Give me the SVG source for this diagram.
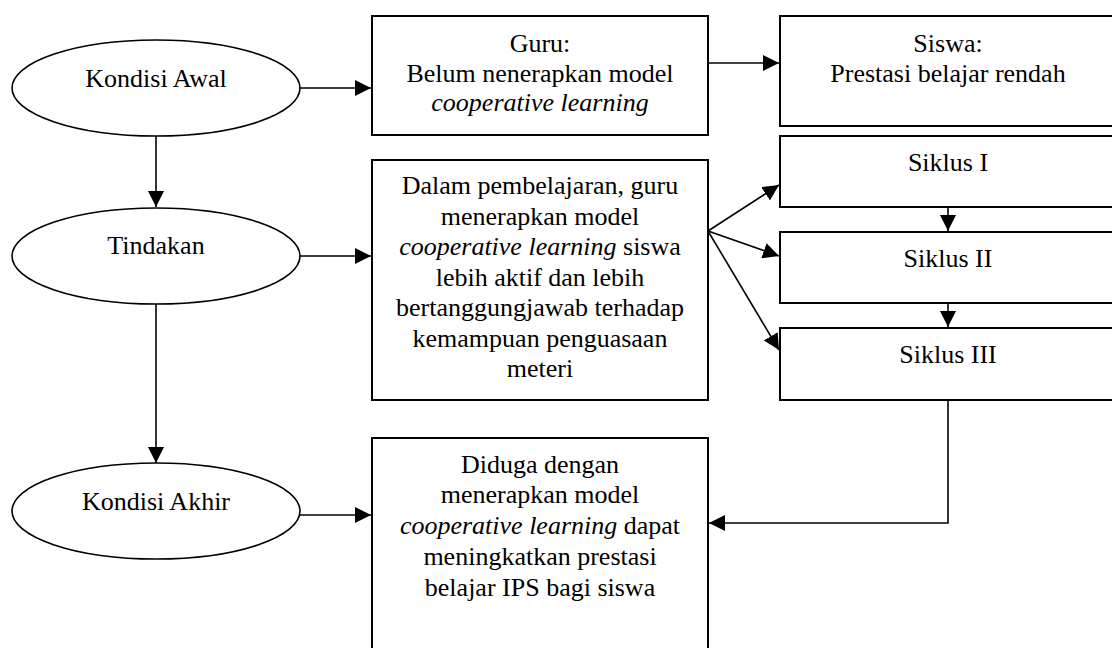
<svg xmlns="http://www.w3.org/2000/svg" width="1112" height="648" viewBox="0 0 1112 648">
  <style>
    .box { fill: #fff; stroke: #000; stroke-width: 2; }
    .oval { fill: #fff; stroke: #000; stroke-width: 1.6; }
    .txt { font-family: "Liberation Serif", "Times New Roman", serif; font-size: 26px; fill: #000; text-anchor: middle; }
    .it { font-style: italic; }
    .link { fill: none; stroke: #000; stroke-width: 1.6; }
  </style>
  <defs>
    <marker id="arrow" viewBox="0 0 16 16" refX="16" refY="8" markerWidth="16" markerHeight="16" markerUnits="userSpaceOnUse" orient="auto">
      <path d="M0,0 L16,8 L0,16 Z" fill="#000"/>
    </marker>
  </defs>
  <rect width="1112" height="648" fill="#fff"/>

  <g id="connectors">
    <line class="link" x1="300" y1="88" x2="371" y2="88" marker-end="url(#arrow)"/>
    <line class="link" x1="708" y1="63" x2="779" y2="63" marker-end="url(#arrow)"/>
    <line class="link" x1="156" y1="136" x2="156" y2="207" marker-end="url(#arrow)"/>
    <line class="link" x1="300" y1="256" x2="371" y2="256" marker-end="url(#arrow)"/>
    <line class="link" x1="156" y1="304" x2="156" y2="463" marker-end="url(#arrow)"/>
    <line class="link" x1="300" y1="515" x2="371" y2="515" marker-end="url(#arrow)"/>
    <line class="link" x1="708" y1="231" x2="779" y2="185" marker-end="url(#arrow)"/>
    <line class="link" x1="708" y1="231" x2="779" y2="256" marker-end="url(#arrow)"/>
    <line class="link" x1="708" y1="231" x2="779" y2="350" marker-end="url(#arrow)"/>
    <line class="link" x1="948" y1="207" x2="948" y2="231" marker-end="url(#arrow)"/>
    <line class="link" x1="948" y1="303" x2="948" y2="327" marker-end="url(#arrow)"/>
    <polyline class="link" points="948,400 948,523 709,523" marker-end="url(#arrow)"/>
  </g>

  <g id="kondisi-awal">
    <ellipse class="oval" cx="156" cy="88" rx="144" ry="48"/>
    <text class="txt" x="156" y="87">Kondisi Awal</text>
  </g>

  <g id="tindakan">
    <ellipse class="oval" cx="156" cy="256" rx="144" ry="48"/>
    <text class="txt" x="156" y="254">Tindakan</text>
  </g>

  <g id="kondisi-akhir">
    <ellipse class="oval" cx="156" cy="511" rx="144" ry="48"/>
    <text class="txt" x="156" y="510">Kondisi Akhir</text>
  </g>

  <g id="guru">
    <rect class="box" x="372" y="16" width="336" height="119"/>
    <text class="txt" x="540" y="52">Guru:</text>
    <text class="txt" x="540" y="82">Belum nenerapkan model</text>
    <text class="txt it" x="540" y="111">cooperative learning</text>
  </g>

  <g id="siswa">
    <rect class="box" x="780" y="16" width="340" height="110"/>
    <text class="txt" x="948" y="52">Siswa:</text>
    <text class="txt" x="948" y="82">Prestasi belajar rendah</text>
  </g>

  <g id="tindakan-detail">
    <rect class="box" x="372" y="160" width="336" height="240"/>
    <text class="txt" x="540" y="194">Dalam pembelajaran, guru</text>
    <text class="txt" x="540" y="224.5">menerapkan model</text>
    <text class="txt" x="540" y="255"><tspan class="it">cooperative learning</tspan> siswa</text>
    <text class="txt" x="540" y="285.5">lebih aktif dan lebih</text>
    <text class="txt" x="540" y="316">bertanggungjawab terhadap</text>
    <text class="txt" x="540" y="346.5">kemampuan penguasaan</text>
    <text class="txt" x="540" y="377">meteri</text>
  </g>

  <g id="siklus-1">
    <rect class="box" x="780" y="136" width="340" height="71"/>
    <text class="txt" x="948" y="171">Siklus I</text>
  </g>

  <g id="siklus-2">
    <rect class="box" x="780" y="232" width="340" height="71"/>
    <text class="txt" x="948" y="267">Siklus II</text>
  </g>

  <g id="siklus-3">
    <rect class="box" x="780" y="328" width="340" height="72"/>
    <text class="txt" x="948" y="363">Siklus III</text>
  </g>

  <g id="hipotesis">
    <rect class="box" x="372" y="438" width="336" height="220"/>
    <text class="txt" x="540" y="473">Diduga dengan</text>
    <text class="txt" x="540" y="503">menerapkan model</text>
    <text class="txt" x="540" y="534"><tspan class="it">cooperative learning</tspan> dapat</text>
    <text class="txt" x="540" y="565">meningkatkan prestasi</text>
    <text class="txt" x="540" y="596">belajar IPS bagi siswa</text>
  </g>
</svg>
